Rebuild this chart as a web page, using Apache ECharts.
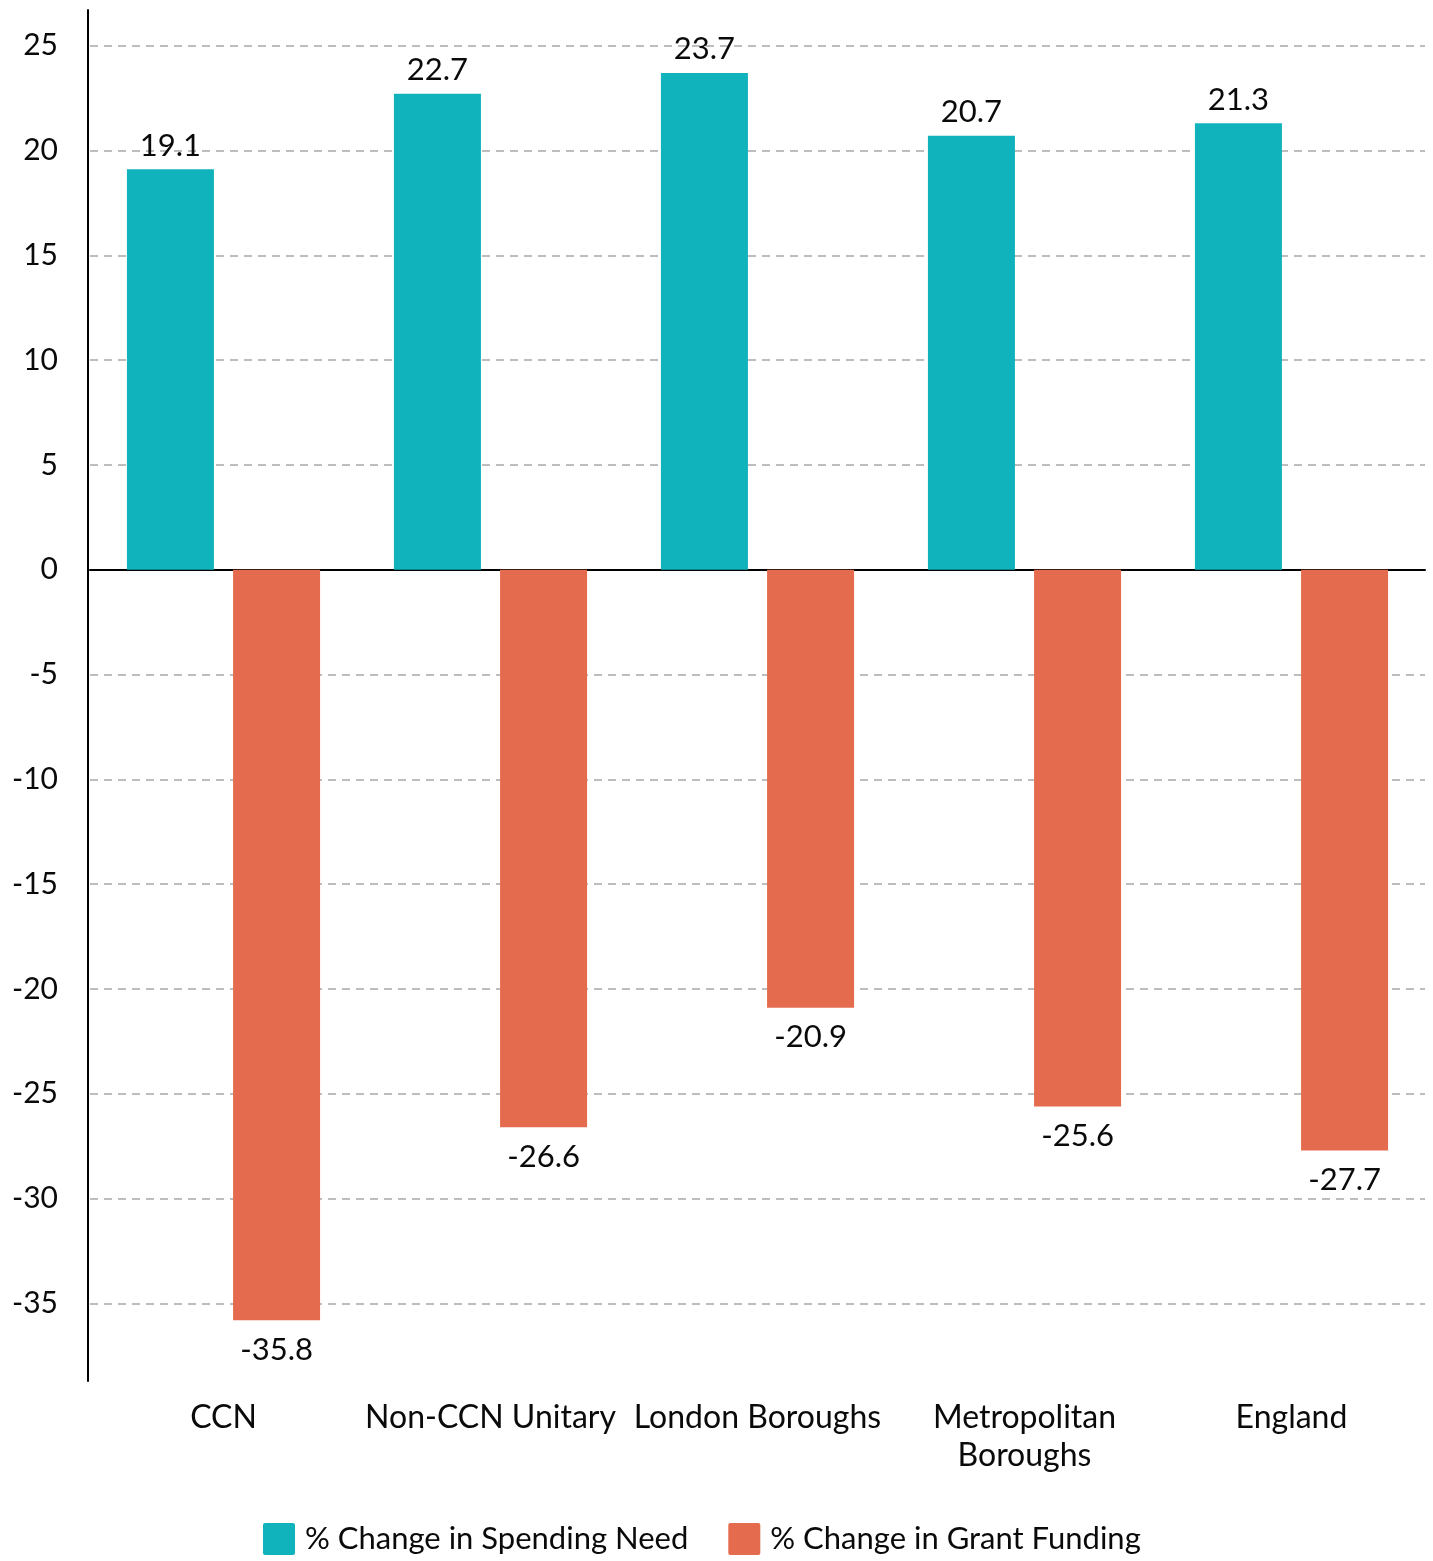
<!DOCTYPE html>
<html>
<head>
<meta charset="utf-8">
<title>Spending need vs grant funding</title>
<script src="https://cdn.jsdelivr.net/npm/echarts@6/dist/echarts.min.js"></script>
<style>
  html, body { margin: 0; padding: 0; background: #ffffff; }
  #chart { width: 1433px; height: 1561px; }
</style>
</head>
<body>
<div id="chart"></div>
<script>
// Authority groups along the x axis
const categories = ['CCN', 'Non-CCN Unitary', 'London Boroughs', 'Metropolitan\nBoroughs', 'England'];

// Percentage changes per group
const spendingNeed = [19.1, 22.7, 23.7, 20.7, 21.3];
const grantFunding = [-35.8, -26.6, -20.9, -25.6, -27.7];

// Series names shown in the legend
const seriesNames = ['% Change in Spending Need', '% Change in Grant Funding'];

// Value axis range
const yMin = -38.7;
const yMax = 26.7;

const FONT = 'Lato, "Noto Sans", sans-serif';
const TEXT = '#0a0a0a';
const TEAL = '#10b2bc';
const CORAL = '#e56b4e';

const chart = echarts.init(document.getElementById('chart'), null, { renderer: 'canvas' });

const valueLabel = {
  show: true,
  fontFamily: FONT,
  fontSize: 31,
  color: TEXT,
  formatter: p => p.value.toFixed(1)
};

chart.setOption({
  animation: false,
  backgroundColor: '#ffffff',
  grid: { left: 90, right: 8, top: 10, bottom: 180, containLabel: false },
  legend: {
    left: 263,
    top: 1523,
    padding: 0,
    itemWidth: 32,
    itemHeight: 32,
    itemGap: 40,
    icon: 'path://M2,0 L30,0 Q32,0 32,2 L32,30 Q32,32 30,32 L2,32 Q0,32 0,30 L0,2 Q0,0 2,0 Z',
    textStyle: { fontFamily: FONT, fontSize: 31, color: TEXT, padding: [0, 0, 0, 5] },
    data: seriesNames
  },
  xAxis: [
    {
      type: 'category',
      data: categories,
      position: 'bottom',
      axisLine: { show: false, onZero: false },
      axisTick: { show: false },
      axisLabel: {
        fontFamily: FONT,
        fontSize: 32,
        color: TEXT,
        margin: 18,
        lineHeight: 38,
        interval: 0
      }
    },
    {
      // zero baseline
      type: 'category',
      data: categories,
      position: 'bottom',
      axisLine: { show: true, onZero: true, lineStyle: { color: '#000000', width: 2 } },
      axisTick: { show: false },
      axisLabel: { show: false }
    }
  ],
  yAxis: {
    type: 'value',
    min: yMin,
    max: yMax,
    splitNumber: 13,
    offset: 2,
    axisLine: { show: true, lineStyle: { color: '#000000', width: 2 } },
    axisTick: { show: false },
    axisLabel: {
      fontFamily: FONT,
      fontSize: 30,
      color: TEXT,
      margin: 30,
      showMinLabel: false,
      showMaxLabel: false,
      formatter: v => (Math.abs(v % 5) < 1e-9 ? String(v) : '')
    },
    splitLine: {
      show: true,
      showMinLine: false,
      showMaxLine: false,
      lineStyle: { color: '#bdbdbd', width: 2, type: [8, 6] }
    }
  },
  series: [
    {
      name: seriesNames[0],
      type: 'bar',
      data: spendingNeed,
      barWidth: 87,
      barGap: '22%',
      itemStyle: { color: TEAL },
      label: Object.assign({ position: 'top', distance: 8 }, valueLabel)
    },
    {
      name: seriesNames[1],
      type: 'bar',
      data: grantFunding,
      barWidth: 87,
      barGap: '22%',
      itemStyle: { color: CORAL },
      label: Object.assign({ position: 'bottom', distance: 14 }, valueLabel)
    }
  ]
});
</script>
</body>
</html>
